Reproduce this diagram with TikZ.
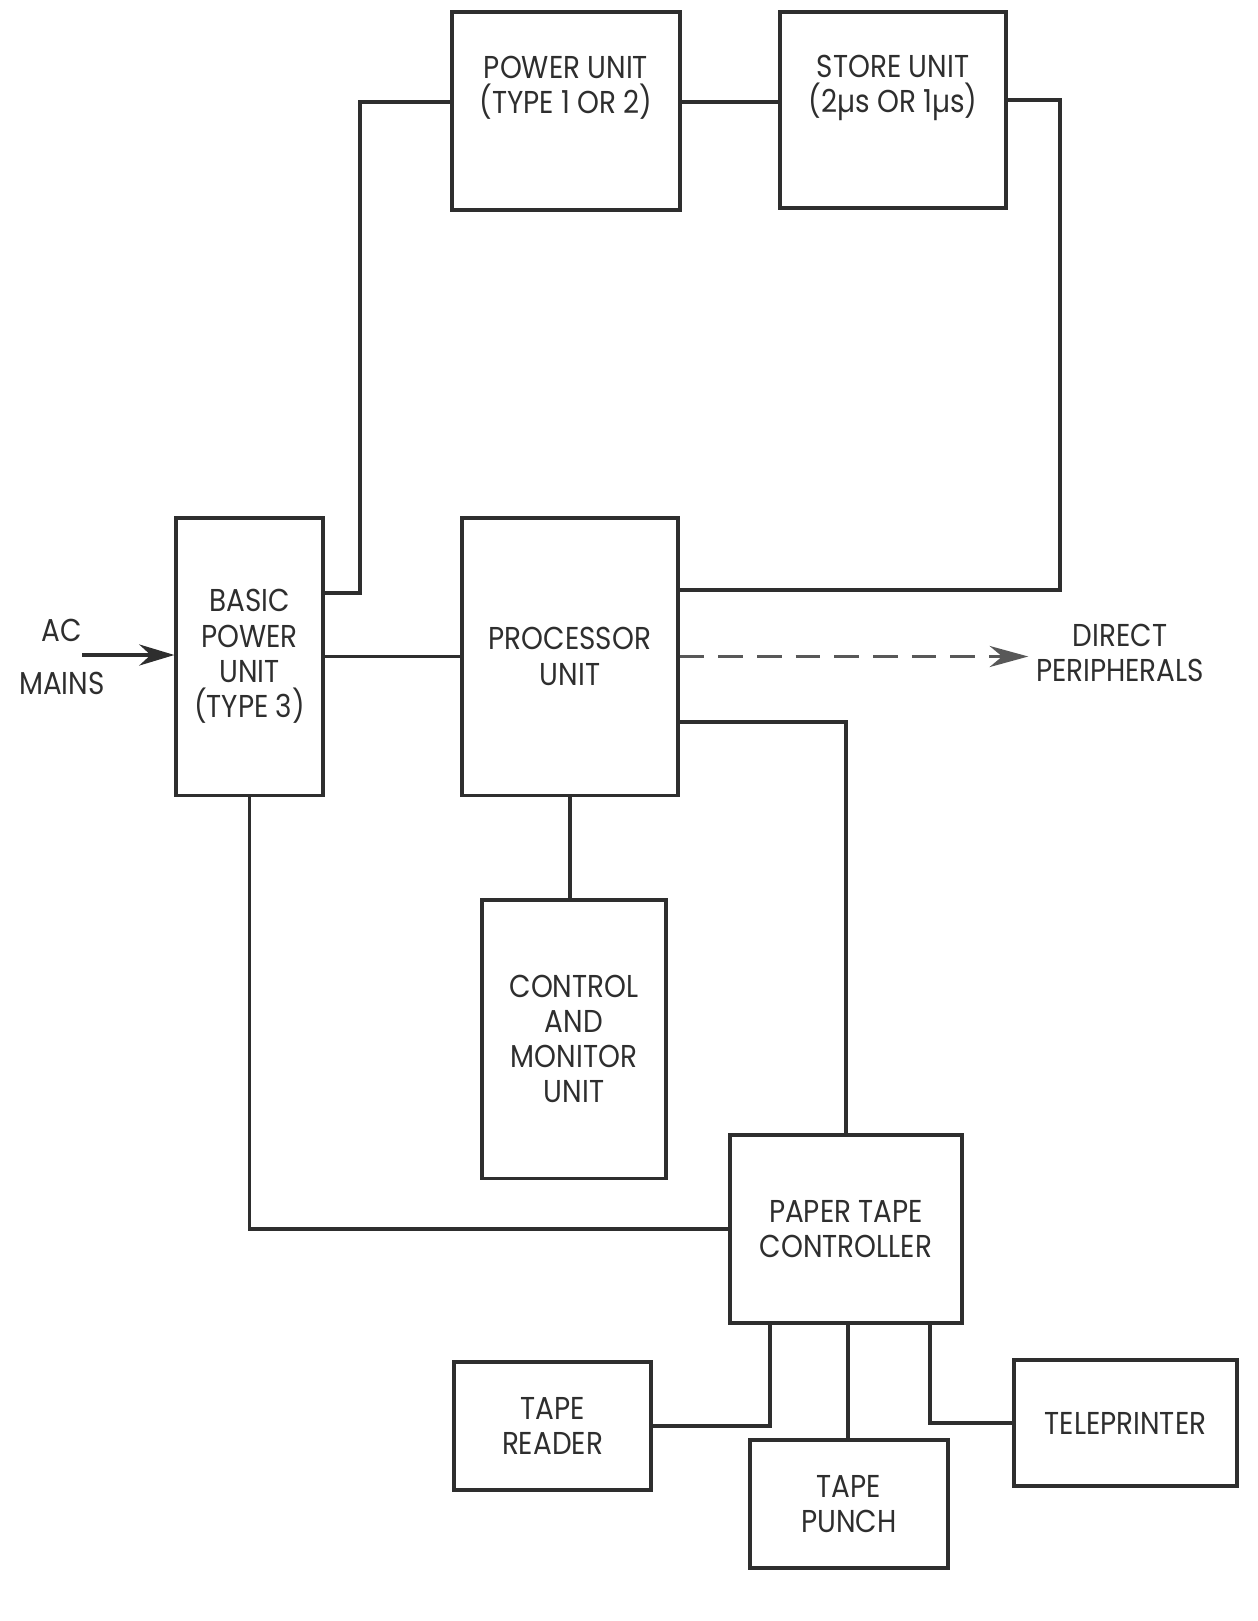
\documentclass[tikz,border=0pt]{standalone}
\usepackage{fontspec}
\setmainfont{Poppins}[FakeStretch=0.88]
\usepackage{tikz}
\usetikzlibrary{arrows.meta}
\definecolor{ink}{HTML}{2E2E2E}
\tikzset{
  unit/.style={draw=ink, line width=0.9pt, inner sep=0pt},
  caption/.style={text=ink, align=center, font=\fontsize{9}{10}\selectfont},
  link/.style={draw=ink, line width=0.9pt},
}
\begin{document}
\begin{tikzpicture}[x=0.01cm, y=-0.01cm]
\useasboundingbox (0,0) rectangle (1258,1621);
\node[unit, minimum width=2.28cm, minimum height=1.98cm] (pwr) at (566,111) {};
\node[caption] (pwrtxt) at (566,88) {POWER UNIT\\(TYPE 1 OR 2)};
\node[unit, minimum width=2.26cm, minimum height=1.96cm] (sto) at (893,110) {};
\node[caption] (stotxt) at (893,88) {STORE UNIT\\(2µs OR 1µs)};
\node[unit, caption, minimum width=1.47cm, minimum height=2.77cm] (bpu) at (249.5,656.5) {BASIC\\POWER\\UNIT\\(TYPE 3)};
\node[unit, caption, minimum width=2.16cm, minimum height=2.77cm] (proc) at (570,656.5) {PROCESSOR\\UNIT};
\node[unit, caption, minimum width=1.84cm, minimum height=2.78cm] (cmu) at (574,1039) {CONTROL\\AND\\MONITOR\\UNIT};
\node[unit, caption, minimum width=2.32cm, minimum height=1.88cm] (ptc) at (846,1229) {PAPER TAPE\\CONTROLLER};
\node[unit, caption, minimum width=1.97cm, minimum height=1.28cm] (rdr) at (552.5,1426) {TAPE\\READER};
\node[unit, caption, minimum width=1.98cm, minimum height=1.28cm] (pch) at (849,1504) {TAPE\\PUNCH};
\node[unit, caption, minimum width=2.23cm, minimum height=1.26cm] (tel) at (1125.5,1423) {TELEPRINTER};
\node[caption] (ac) at (62,657) {AC\\[5pt]MAINS};
\node[caption, inner sep=2pt] (dp) at (1120,653) {DIRECT\\PERIPHERALS};
\coordinate (acin) at (82,655);
\draw[link] (bpu.east |- 0,593) -| (360,102) -- (pwr.west |- 0,102);
\draw[link] (pwr.east |- 0,102) -- (sto.west |- 0,102);
\draw[link] (sto.east |- 0,100) -| (1060,590) -- (proc.east |- 0,590);
\draw[link, -{Stealth[length=10pt, width=6pt]}] (acin) -- (bpu.west |- acin);
\draw[link] (bpu.east) -- (proc.west);
\draw[link, draw=ink!80, dash pattern=on 7pt off 4pt, -{Stealth[length=11pt, width=6pt]}] (proc.east) -- (dp.west |- proc.east);
\draw[link] (proc.east |- 0,722) -| (ptc.north);
\draw[link] (proc.south) -- (proc.south |- cmu.north);
\draw[link] (bpu.south) |- (ptc.west);
\draw[link] (ptc.south -| 770,0) |- (rdr.east);
\draw[link] (ptc.south -| 848,0) -- (pch.north -| 848,0);
\draw[link] (ptc.south -| 930,0) |- (tel.west);
\end{tikzpicture}
\end{document}
